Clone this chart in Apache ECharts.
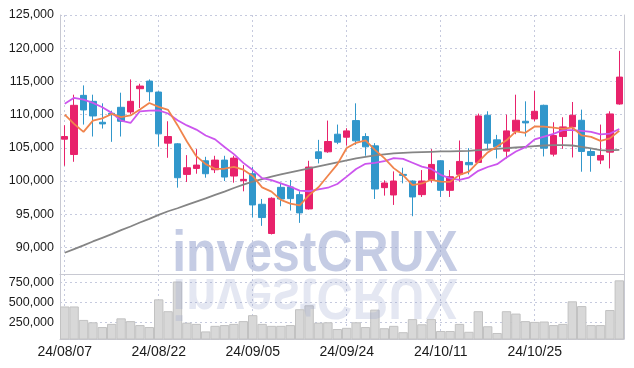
<!DOCTYPE html>
<html><head><meta charset="utf-8">
<script src="https://cdn.jsdelivr.net/npm/echarts@6/dist/echarts.min.js"></script>
<style>html,body{margin:0;padding:0;background:#fff}#c{width:634px;height:368px}</style>
</head><body><div id="c"></div>
<script>
const dates = ['24/08/07','24/08/08','24/08/09','24/08/12','24/08/13','24/08/14','24/08/16','24/08/19','24/08/20','24/08/21',
'24/08/22','24/08/23','24/08/26','24/08/27','24/08/28','24/08/29','24/08/30','24/09/02','24/09/03','24/09/04',
'24/09/05','24/09/06','24/09/09','24/09/10','24/09/11','24/09/12','24/09/13','24/09/19','24/09/20','24/09/23',
'24/09/24','24/09/25','24/09/26','24/09/27','24/09/30','24/10/02','24/10/04','24/10/07','24/10/08','24/10/10',
'24/10/11','24/10/14','24/10/15','24/10/16','24/10/17','24/10/18','24/10/21','24/10/22','24/10/23','24/10/24',
'24/10/25','24/10/28','24/10/29','24/10/30','24/10/31','24/11/01','24/11/04','24/11/05','24/11/06','24/11/07'];
const openP = [106300,104000,112900,112000,108850,110200,111100,110400,113900,115050,
113400,105700,105600,101000,101900,103050,101700,103150,100750,100050,
101100,96500,92100,99050,99100,97950,95800,104400,104400,107050,
106600,109100,106700,105300,99000,97900,101000,100000,97950,100150,
103050,98600,101000,102800,102800,109900,106200,104500,107500,109000,
109350,111400,104050,106700,108150,109150,104450,103150,104350,111600];
const closeP = [106700,111400,110700,109800,108600,110000,109000,112000,114300,113450,
107100,106700,100500,102000,102400,101100,103150,100600,103450,100250,
96400,94500,97400,97300,97350,95200,102100,103400,105950,105850,
107550,106050,105150,98800,99700,100000,100850,97600,100000,102500,
98600,100650,102950,102450,109800,105700,105150,107550,109150,108750,
110500,104950,106850,108150,109900,104450,103850,103850,110100,115650];
const lowP = [102300,102900,108500,106700,107900,105900,106700,110100,111000,112000,
105200,103500,99000,99850,101100,100500,101200,100000,99750,98450,
94500,93250,91950,96200,95550,93700,95700,102650,104250,105550,
105350,105450,103800,97300,97800,96400,99650,94700,97600,99750,
97600,97600,99900,101000,102700,104650,103400,103400,107050,106700,
109000,103700,103700,104850,103550,101400,101400,102550,101900,111500];
const highP = [108400,113000,114400,113000,111700,110600,113300,115300,114650,115300,
113500,109000,105700,103900,104800,103650,103800,103800,103800,102400,
102100,97300,97550,99600,100150,98450,103050,106200,109100,108500,
107950,111700,107200,105700,100100,101450,102000,100100,101650,104800,
103100,101650,106100,104950,110150,110500,106950,110000,113000,112000,
113550,111500,108850,109600,111900,110750,104850,108500,110500,119600];
const ma5 = [110000,108600,107400,109100,109440,110100,109620,109880,110780,111750,
111170,110710,108410,105950,103740,102540,101830,101850,102140,101710,
100770,99040,98400,97170,96590,96350,97870,99070,100800,102500,
104970,105760,106110,104680,103450,101940,100900,99390,99630,100190,
99910,99870,100940,101430,102890,104310,105210,106130,107470,107260,
108220,108180,108040,107840,108070,106860,106640,106040,106430,107580];
const ma10 = [111620,112530,112270,111770,111110,110260,109090,108740,110500,110600,
110640,110170,109150,108370,107750,106860,106270,105130,104050,102730,
101660,100440,100130,99660,99150,98560,98460,98740,98990,99550,
100660,101820,102590,102740,102980,103460,103330,102750,102160,101820,
100930,100390,100170,100530,101540,102110,102540,103540,104450,105080,
106270,106700,107090,107660,107670,107540,107410,107040,107140,107830];
const ma60 = [89200,89750,90300,90900,91450,92000,92600,93150,93750,94300,
94900,95450,95900,96400,96900,97400,97900,98400,98950,99450,
99900,100300,100650,101000,101300,101600,101900,102200,102500,102800,
103100,103400,103650,103850,104000,104150,104250,104300,104350,104400,
104450,104450,104500,104550,104650,104750,104850,104950,105050,105150,
105250,105350,105400,105400,105350,105150,104900,104650,104600,104700];
const volume = [450000,450000,280000,250000,190000,230000,300000,265000,215000,190000,
540000,390000,765000,245000,230000,135000,205000,215000,230000,265000,
340000,230000,205000,205000,215000,415000,465000,245000,250000,165000,
180000,250000,190000,410000,175000,205000,125000,290000,225000,290000,
140000,140000,230000,130000,390000,200000,115000,390000,360000,265000,
255000,260000,215000,230000,515000,455000,215000,215000,405000,780000];
const priceTicks = [90000,95000,100000,105000,110000,115000,120000,125000];
const volumeTicks = [250000,500000,750000];
const watermark = 'investCRUX';

const chart = echarts.init(document.getElementById('c'));
const candles = dates.map((d, i) => [openP[i], closeP[i], lowP[i], highP[i]]);
const gridColor = '#c6cade';
const axisColor = '#c8c9d2';
const fmt = v => String(v).replace(/\B(?=(\d{3})+(?!\d))/g, ',');
const labelFont = '"Liberation Sans", Arial, sans-serif';
const wmFont = 'bold 58px "Liberation Sans", Arial, sans-serif';

const option = {
  animation: false,
  backgroundColor: '#fff',
  grid: [
    {left: 60, right: 10, top: 15, height: 259},
    {left: 60, right: 10, top: 274, height: 65}
  ],
  xAxis: [
    {type: 'category', data: dates, gridIndex: 0, boundaryGap: true,
     axisLine: {show: true, lineStyle: {color: axisColor}}, axisTick: {show: false}, axisLabel: {show: false},
     splitLine: {show: true, interval: 9, alignWithLabel: true, lineStyle: {color: gridColor, type: [2, 3]}}},
    {type: 'category', data: dates, gridIndex: 1, boundaryGap: true,
     axisLine: {show: true, lineStyle: {color: axisColor}}, axisTick: {show: false},
     axisLabel: {show: true, interval: 9, fontSize: 14, color: '#1a1a1a', fontFamily: labelFont, margin: 6},
     splitLine: {show: true, interval: 9, alignWithLabel: true, lineStyle: {color: gridColor, type: [2, 3]}}}
  ],
  yAxis: [
    {type: 'value', gridIndex: 0, min: 86000, max: 125000, scale: true,
     axisLine: {show: true, lineStyle: {color: axisColor}},
     axisTick: {show: false, customValues: priceTicks},
     axisLabel: {customValues: priceTicks, formatter: fmt, fontSize: 12.5, color: '#1a1a1a', fontFamily: labelFont, margin: 6},
     splitLine: {show: true, lineStyle: {color: gridColor, type: [2, 3]}}},
    {type: 'value', gridIndex: 1, min: 39000, max: 860000,
     axisLine: {show: true, lineStyle: {color: axisColor}},
     axisTick: {show: false, customValues: volumeTicks},
     axisLabel: {customValues: volumeTicks, fontSize: 12.5, color: '#1a1a1a', fontFamily: labelFont, margin: 6},
     splitLine: {show: true, lineStyle: {color: gridColor, type: [2, 3]}}},
    {type: 'value', gridIndex: 0, position: 'right', min: 0, max: 1,
     axisLine: {show: true, lineStyle: {color: axisColor}}, axisTick: {show: false}, axisLabel: {show: false}, splitLine: {show: false}},
    {type: 'value', gridIndex: 1, position: 'right', min: 0, max: 1,
     axisLine: {show: true, lineStyle: {color: axisColor}}, axisTick: {show: false}, axisLabel: {show: false}, splitLine: {show: false}}
  ],
  series: [
    {type: 'candlestick', xAxisIndex: 0, yAxisIndex: 0, data: candles, barWidth: 7,
     itemStyle: {color: '#e8226b', color0: '#3197cb', borderColor: '#e8226b', borderColor0: '#3197cb', borderWidth: 1}},
    {type: 'line', xAxisIndex: 0, yAxisIndex: 0, data: ma60, symbol: 'none', lineStyle: {color: '#858585', width: 1.8}, z: 3},
    {type: 'line', xAxisIndex: 0, yAxisIndex: 0, data: ma10, symbol: 'none', lineStyle: {color: '#cc55ee', width: 1.8}, z: 3},
    {type: 'line', xAxisIndex: 0, yAxisIndex: 0, data: ma5, symbol: 'none', lineStyle: {color: '#f0844c', width: 1.8}, z: 3},
    {type: 'bar', xAxisIndex: 1, yAxisIndex: 1, data: volume, barWidth: '100%',
     itemStyle: {color: '#d8d8d8', borderColor: '#c2c2c2', borderWidth: 1}}
  ],
  graphic: [
    {type: 'text', z: 100, x: 315, y: 284, scaleX: 0.86,
     style: {text: watermark, font: wmFont, fill: 'rgba(150,162,206,0.55)', align: 'center', verticalAlign: 'bottom'}},
    {type: 'text', z: 100, x: 315, y: 266, scaleX: 0.86, scaleY: -1,
     style: {text: watermark, font: wmFont, fill: 'rgba(150,162,206,0.26)', align: 'center', verticalAlign: 'bottom'}}
  ]
};
chart.setOption(option);
</script>
</body></html>
